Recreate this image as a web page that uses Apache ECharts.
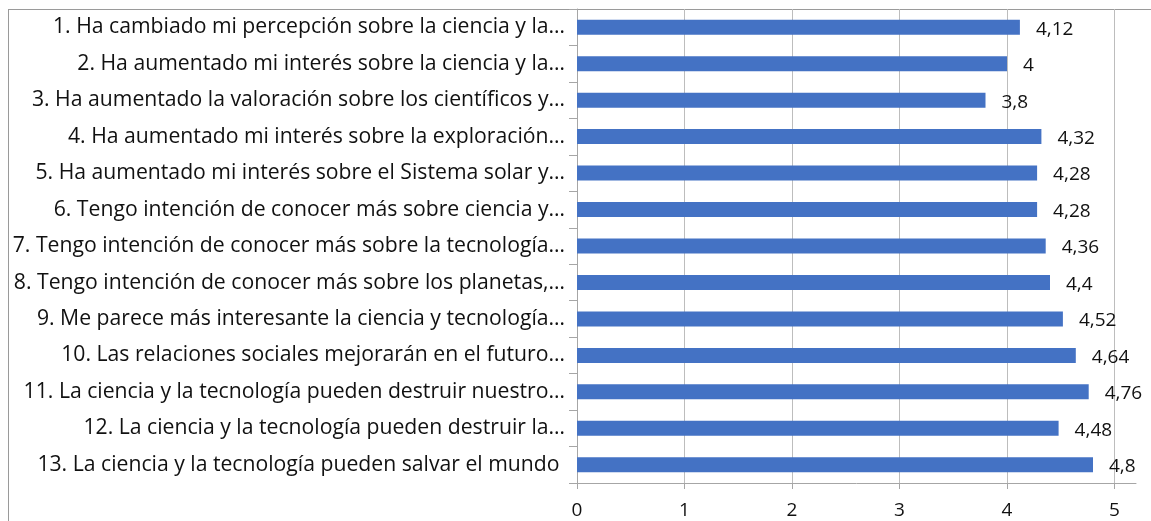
<!DOCTYPE html>
<html>
<head>
<meta charset="utf-8">
<script src="https://cdn.jsdelivr.net/npm/echarts@6/dist/echarts.min.js"></script>
<style>
  html, body { margin: 0; padding: 0; background: #fff; overflow: hidden; }
  #frame { position: absolute; left: 8px; top: 9px; width: 2000px; height: 1000px; border: 1px solid #9a9a9a; box-sizing: border-box; }
  #chart { position: absolute; left: 0; top: 0; width: 1151px; height: 521px; }
</style>
</head>
<body>
<div id="frame"></div>
<div id="chart"></div>
<script>
// preguntas (texto tal como aparece en el eje, recortado)
const categories = [
  '1. Ha cambiado mi percepción sobre la ciencia y la…',
  '2. Ha aumentado mi interés sobre la ciencia y la…',
  '3. Ha aumentado la valoración sobre los científicos y…',
  '4. Ha aumentado mi interés sobre la exploración…',
  '5. Ha aumentado mi interés sobre el Sistema solar y…',
  '6. Tengo intención de conocer más sobre ciencia y…',
  '7. Tengo intención de conocer más sobre la tecnología…',
  '8. Tengo intención de conocer más sobre los planetas,…',
  '9. Me parece más interesante la ciencia y tecnología…',
  '10. Las relaciones sociales mejorarán en el futuro…',
  '11. La ciencia y la tecnología pueden destruir nuestro…',
  '12. La ciencia y la tecnología pueden destruir la…',
  '13. La ciencia y la tecnología pueden salvar el mundo '
]
// valoración media
const values = [4.12, 4, 3.8, 4.32, 4.28, 4.28, 4.36, 4.4, 4.52, 4.64, 4.76, 4.48, 4.8]
// marcas del eje x
const xTicks = [0, 1, 2, 3, 4, 5]

const FONT = '"Open Sans", sans-serif'
const chart = echarts.init(document.getElementById('chart'), null, { renderer: 'canvas' })

const option = {
  backgroundColor: 'transparent',
  animation: false,
  grid: {
    left: 577,
    right: 15,
    top: 9,
    bottom: 38,
    containLabel: false,
    outerBoundsMode: 'none'
  },
  xAxis: {
    type: 'value',
    min: 0,
    max: 5.2,
    interval: 1,
    axisLine: { show: true, lineStyle: { color: '#a6a6a6', width: 1 } },
    axisTick: { show: true, length: 6, customValues: xTicks, lineStyle: { color: '#a6a6a6' } },
    axisLabel: {
      customValues: xTicks,
      margin: 18,
      color: '#111',
      fontFamily: FONT,
      fontSize: 19
    },
    splitLine: { show: true, lineStyle: { color: '#bdbdbd', width: 1 } }
  },
  yAxis: {
    type: 'category',
    inverse: true,
    data: categories,
    axisLine: { show: true, lineStyle: { color: '#a6a6a6', width: 1 } },
    axisTick: { show: true, length: 8, lineStyle: { color: '#a6a6a6' } },
    axisLabel: {
      margin: 12,
      color: '#111',
      fontFamily: FONT,
      fontSize: 21.2
    },
    splitLine: { show: false }
  },
  series: [
    {
      type: 'bar',
      data: values,
      barWidth: 15,
      itemStyle: { color: '#4472c4' },
      label: {
        show: true,
        position: 'right',
        distance: 16,
        offset: [0, 2],
        color: '#111',
        fontFamily: FONT,
        fontSize: 19,
        formatter: (p) => String(p.value).replace('.', ',')
      }
    }
  ]
}

chart.setOption(option)
</script>
</body>
</html>
